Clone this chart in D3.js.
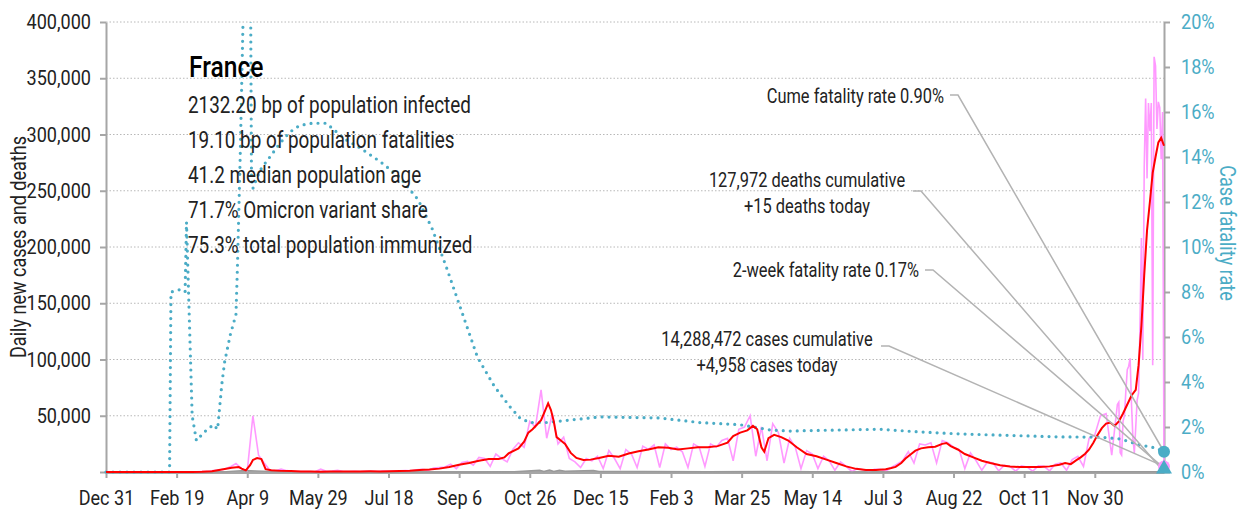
<!DOCTYPE html>
<html>
<head>
<meta charset="utf-8">
<script src="https://cdn.jsdelivr.net/npm/d3@7"></script>
<style>
    body { margin: 0; background: #fff; }
    svg text { font-family: Roboto, "Liberation Sans", sans-serif; fill: #222; }
</style>
</head>
<body>
<div id="chart"></div>
<script>
// ---------------- data ----------------
const startDate = "2019-12-31";
const endDate = "2022-01-18";

const xTickDates = ["2019-12-31", "2020-02-19", "2020-04-09", "2020-05-29", "2020-07-18", "2020-09-06",
    "2020-10-26", "2020-12-15", "2021-02-03", "2021-03-25", "2021-05-14", "2021-07-03",
    "2021-08-22", "2021-10-11", "2021-11-30"];
const leftTicks = [0, 50000, 100000, 150000, 200000, 250000, 300000, 350000, 400000];
const rightTicks = [0, 2, 4, 6, 8, 10, 12, 14, 16, 18, 20];

// daily new cases, one reading every 4 days from Dec 31 2019
const casesStep = 4;
const casesEvery4Days = [
    0, 0, 0, 0, 0, 0, 0, 0, 0, 0, 0, 0, 0, 0, 2, 40, 100, 300, 500, 1200,
    1800, 2500, 4600, 7500, 3000, 1000, 50000, 15000, 8000, 1500, 1000, 2500, 1200, 600, 400, 300, 500, 200, 2500, 600,
    800, 1500, 400, 500, 600, 300, 700, 600, 400, 800, 700, 900, 1000, 1300, 1000, 2000, 2500, 1500, 3500, 4000,
    4500, 7000, 3000, 8500, 9500, 6000, 13000, 12000, 5000, 16000, 12000, 9000, 20000, 26000, 22000, 45000, 40000, 73000, 30000, 52000,
    25000, 31000, 12000, 9000, 4000, 12000, 10000, 14000, 3000, 19000, 12000, 3000, 20000, 16000, 4000, 23000, 20000, 24000, 4000, 25000,
    20000, 22000, 18000, 4000, 25000, 22000, 5000, 25000, 22000, 28000, 30000, 10000, 38000, 40000, 50000, 14000, 40000, 10000, 43000, 35000,
    8000, 30000, 22000, 3000, 19000, 16000, 3000, 14000, 10000, 1500, 9000, 5000, 500, 3000, 2000, 500, 2500, 2500, 800, 4000,
    7000, 10000, 18000, 8000, 25000, 24000, 26000, 8000, 28000, 26000, 22000, 20000, 3000, 17000, 10000, 1500, 9000, 8000, 1000, 6000,
    5000, 800, 5500, 4500, 700, 5500, 5000, 1000, 7000, 8000, 1500, 11000, 14000, 5000, 30000, 33000, 50000, 52000, 15000, 60000
];
// daily new cases, day by day from Dec 17 2021
const casesLateStart = "2021-12-17";
const casesLate = [
    62000, 17000, 15000, 45000, 50000, 72000, 91000, 94000, 101000, 60000, 30000, 17000, 40000, 64000, 70000, 130000,
    208000, 100000, 271000, 332000, 261000, 328000, 303000, 328000, 95000, 369000, 361000, 305000, 329000, 324000, 278000,
    320000, 4958
];

// 7-day average of new cases
const avgCases = [
    ["2019-12-31", 0], ["2020-02-20", 0], ["2020-03-01", 20], ["2020-03-08", 150], ["2020-03-15", 700],
    ["2020-03-22", 2200], ["2020-03-29", 3800], ["2020-04-03", 4400], ["2020-04-05", 3000], ["2020-04-08", 1500],
    ["2020-04-11", 6000], ["2020-04-13", 10700], ["2020-04-16", 12400], ["2020-04-19", 11500], ["2020-04-22", 2500],
    ["2020-04-26", 1500], ["2020-05-03", 1000], ["2020-05-10", 900], ["2020-05-17", 500], ["2020-05-24", 400],
    ["2020-05-31", 300], ["2020-06-07", 500], ["2020-06-14", 400], ["2020-06-21", 500], ["2020-06-28", 550],
    ["2020-07-05", 600], ["2020-07-12", 550], ["2020-07-19", 700], ["2020-07-26", 900], ["2020-08-02", 1200],
    ["2020-08-09", 1800], ["2020-08-16", 2200], ["2020-08-23", 3000], ["2020-08-30", 4500], ["2020-09-06", 6500],
    ["2020-09-13", 8000], ["2020-09-20", 10000], ["2020-09-27", 11500], ["2020-10-04", 11500], ["2020-10-08", 13000],
    ["2020-10-11", 16500], ["2020-10-18", 21000], ["2020-10-22", 27000], ["2020-10-25", 35000], ["2020-10-28", 38000],
    ["2020-10-31", 42000], ["2020-11-03", 46000], ["2020-11-06", 55000], ["2020-11-08", 61000], ["2020-11-10", 55000],
    ["2020-11-12", 45000], ["2020-11-14", 31000], ["2020-11-17", 28000], ["2020-11-20", 25000], ["2020-11-24", 17000],
    ["2020-11-28", 12500], ["2020-12-03", 10700], ["2020-12-08", 11000], ["2020-12-14", 12500], ["2020-12-21", 14500],
    ["2020-12-28", 13500], ["2021-01-04", 16500], ["2021-01-11", 18500], ["2021-01-18", 20000], ["2021-01-25", 22000],
    ["2021-02-01", 21500], ["2021-02-08", 20000], ["2021-02-15", 21000], ["2021-02-22", 22000], ["2021-03-01", 22000],
    ["2021-03-08", 23000], ["2021-03-15", 26000], ["2021-03-19", 32000], ["2021-03-24", 35000], ["2021-03-29", 37000],
    ["2021-04-02", 41000], ["2021-04-05", 38000], ["2021-04-08", 22000], ["2021-04-10", 18000], ["2021-04-13", 30000],
    ["2021-04-17", 33000], ["2021-04-22", 31000], ["2021-04-27", 28000], ["2021-05-03", 22000], ["2021-05-10", 16000],
    ["2021-05-17", 14000], ["2021-05-24", 11000], ["2021-05-31", 8000], ["2021-06-07", 5000], ["2021-06-14", 2800],
    ["2021-06-21", 1800], ["2021-06-28", 1800], ["2021-07-05", 2500], ["2021-07-09", 3500], ["2021-07-12", 4500],
    ["2021-07-16", 8000], ["2021-07-19", 12000], ["2021-07-23", 16000], ["2021-07-26", 19000], ["2021-07-30", 21000],
    ["2021-08-04", 22000], ["2021-08-09", 22500], ["2021-08-14", 25000], ["2021-08-17", 25800], ["2021-08-20", 23000],
    ["2021-08-25", 20000], ["2021-08-30", 16000], ["2021-09-05", 13000], ["2021-09-11", 10000], ["2021-09-17", 8000],
    ["2021-09-24", 6000], ["2021-10-01", 4800], ["2021-10-08", 4400], ["2021-10-15", 4400], ["2021-10-22", 4400],
    ["2021-10-29", 5000], ["2021-11-05", 6500], ["2021-11-09", 8000], ["2021-11-13", 7000], ["2021-11-17", 10500],
    ["2021-11-20", 13000], ["2021-11-23", 16000], ["2021-11-26", 20000], ["2021-11-29", 26000], ["2021-12-02", 33000],
    ["2021-12-05", 39000], ["2021-12-08", 43000], ["2021-12-11", 44000], ["2021-12-14", 41000], ["2021-12-17", 45000],
    ["2021-12-20", 52000], ["2021-12-23", 60000], ["2021-12-26", 68000], ["2021-12-29", 73000], ["2021-12-31", 95000],
    ["2022-01-02", 130000], ["2022-01-04", 175000], ["2022-01-06", 215000], ["2022-01-08", 240000], ["2022-01-10", 266000],
    ["2022-01-12", 280000], ["2022-01-14", 293000], ["2022-01-16", 297000], ["2022-01-18", 290000]
];

// daily deaths
const dailyDeaths = [
    ["2019-12-31", 0], ["2020-03-10", 10], ["2020-03-25", 300], ["2020-04-02", 1000], ["2020-04-08", 1400],
    ["2020-04-15", 1000], ["2020-04-25", 500], ["2020-05-10", 150], ["2020-06-01", 50], ["2020-08-01", 15],
    ["2020-09-15", 60], ["2020-10-15", 150], ["2020-11-02", 1500], ["2020-11-05", 400], ["2020-11-09", 1700],
    ["2020-11-12", 500], ["2020-11-16", 1500], ["2020-11-20", 600], ["2020-12-10", 1400], ["2020-12-14", 400],
    ["2021-01-15", 350], ["2021-03-01", 300], ["2021-04-15", 350], ["2021-05-15", 150], ["2021-06-15", 40],
    ["2021-08-20", 120], ["2021-10-15", 30], ["2021-12-15", 120], ["2022-01-17", 250], ["2022-01-18", 15]
];

// cumulative case fatality rate, percent
const fatalityRate = [
    ["2019-12-31", 0], ["2020-02-14", 0], ["2020-02-15", 8.0], ["2020-02-21", 8.1], ["2020-02-25", 8.0],
    ["2020-02-26", 11.1], ["2020-03-01", 2.5], ["2020-03-04", 1.4], ["2020-03-10", 1.8], ["2020-03-16", 2.1],
    ["2020-03-19", 1.9], ["2020-03-22", 3.9], ["2020-03-24", 4.9], ["2020-03-28", 6.1], ["2020-04-01", 7.0],
    ["2020-04-02", 9.0], ["2020-04-03", 11.5], ["2020-04-04", 14.0], ["2020-04-05", 17.0], ["2020-04-06", 20.0],
    ["2020-04-07", 26.0], ["2020-04-11", 26.0], ["2020-04-12", 13.0], ["2020-04-13", 12.6], ["2020-04-16", 13.1],
    ["2020-04-19", 13.5], ["2020-04-25", 14.0], ["2020-05-02", 14.6], ["2020-05-09", 15.1], ["2020-05-16", 15.4],
    ["2020-05-25", 15.5], ["2020-06-04", 15.5], ["2020-06-17", 14.8], ["2020-06-28", 14.4], ["2020-07-12", 13.8],
    ["2020-07-26", 13.1], ["2020-08-08", 12.1], ["2020-08-18", 10.8], ["2020-08-28", 9.1], ["2020-09-08", 7.1],
    ["2020-09-19", 5.1], ["2020-10-01", 3.8], ["2020-10-12", 2.9], ["2020-10-19", 2.4], ["2020-10-26", 2.2],
    ["2020-11-07", 2.2], ["2020-12-15", 2.45], ["2021-01-26", 2.4], ["2021-02-23", 2.2], ["2021-03-24", 2.1],
    ["2021-04-14", 1.87], ["2021-04-28", 1.82], ["2021-05-19", 1.85], ["2021-07-01", 1.9], ["2021-07-29", 1.78],
    ["2021-08-27", 1.69], ["2021-11-05", 1.56], ["2021-12-04", 1.55], ["2021-12-18", 1.47], ["2022-01-01", 1.2],
    ["2022-01-12", 1.07], ["2022-01-18", 0.9]
];

const countryName = "France";
const statLines = [
    "2132.20 bp of population infected",
    "19.10 bp of population fatalities",
    "41.2 median population age",
    "71.7% Omicron variant share",
    "75.3% total population immunized"
];

const cumeRate = 0.90;
const twoWeekRate = 0.17;
const casesToday = 4958;
const deathsToday = 15;
const noteTexts = [
    ["Cume fatality rate 0.90%"],
    ["127,972 deaths cumulative", "+15 deaths today"],
    ["2-week fatality rate 0.17%"],
    ["14,288,472 cases cumulative", "+4,958 cases today"]
];

// ---------------- chart ----------------
const parseDate = d3.timeParse("%Y-%m-%d");

// squeeze glyphs along the run to get a condensed look
function condense(selection, factor) {
    selection.each(function() {
        let w = this.getComputedTextLength();
        if (w > 0) {
            d3.select(this)
                .attr("textLength", w * factor)
                .attr("lengthAdjust", "spacingAndGlyphs");
        }
    });
}

class CaseChart {
    constructor(parentElement) {
        this.parentElement = parentElement;
        this.initVis();
    }

    initVis() {
        let vis = this;

        vis.margin = {top: 22, right: 76, bottom: 40, left: 106};
        vis.width = 1240 - vis.margin.left - vis.margin.right;
        vis.height = 512 - vis.margin.top - vis.margin.bottom;

        vis.root = d3.select("#" + vis.parentElement).append("svg")
            .attr("width", 1240)
            .attr("height", 512);
        vis.svg = vis.root.append("g")
            .attr("transform", "translate(" + vis.margin.left + "," + vis.margin.top + ")");

        vis.x = d3.scaleTime()
            .domain([parseDate(startDate), parseDate(endDate)])
            .range([0, vis.width]);

        vis.yLeft = d3.scaleLinear()
            .domain([0, 400000])
            .range([vis.height, 0]);

        vis.yRight = d3.scaleLinear()
            .domain([0, 20])
            .range([vis.height, 0]);

        vis.svg.append("clipPath").attr("id", "plot-clip")
            .append("rect")
            .attr("x", -3).attr("y", 0)
            .attr("width", vis.width + 6).attr("height", vis.height + 4);

        this.wrangleData();
    }

    wrangleData() {
        let vis = this;

        let start = parseDate(startDate);
        vis.dailyData = casesEvery4Days.map((v, i) => ({date: d3.timeDay.offset(start, i * casesStep), value: v}));
        let lateStart = parseDate(casesLateStart);
        casesLate.forEach((v, i) => vis.dailyData.push({date: d3.timeDay.offset(lateStart, i), value: v}));

        let toPoints = arr => arr.map(d => ({date: parseDate(d[0]), value: d[1]}));
        vis.avgData = toPoints(avgCases);
        vis.deathData = toPoints(dailyDeaths);
        vis.rateData = toPoints(fatalityRate);

        this.updateVis();
    }

    updateVis() {
        let vis = this;
        let teal = "#4bacc6";
        let axisGrey = "#a6a6a6";

        // dotted grid
        vis.svg.append("g").selectAll("line")
            .data(leftTicks.filter(d => d > 0))
            .enter().append("line")
            .attr("x1", 0).attr("x2", vis.width)
            .attr("y1", d => vis.yLeft(d)).attr("y2", d => vis.yLeft(d))
            .attr("stroke", "#b8b8b8")
            .attr("stroke-width", 1)
            .attr("stroke-dasharray", "1.5,2");

        // axes
        let leftAxis = d3.axisLeft(vis.yLeft)
            .tickValues(leftTicks)
            .tickFormat(d => d === 0 ? "" : d3.format(",")(d))
            .tickSize(6).tickSizeOuter(0).tickPadding(9);
        let rightAxis = d3.axisRight(vis.yRight)
            .tickValues(rightTicks)
            .tickFormat(d => d + "%")
            .tickSize(6).tickSizeOuter(0).tickPadding(11);
        let bottomAxis = d3.axisBottom(vis.x)
            .tickValues(xTickDates.map(parseDate))
            .tickFormat(d3.timeFormat("%b %-d"))
            .tickSize(6).tickSizeOuter(0).tickPadding(12);

        let gl = vis.svg.append("g").attr("class", "y-axis axis").call(leftAxis);
        let gr = vis.svg.append("g").attr("class", "y2-axis axis")
            .attr("transform", "translate(" + vis.width + ",0)").call(rightAxis);
        let gb = vis.svg.append("g").attr("class", "x-axis axis")
            .attr("transform", "translate(0," + vis.height + ")").call(bottomAxis);

        [gl, gr, gb].forEach(g => {
            g.attr("font-family", null).attr("font-size", null);
            g.select(".domain").attr("stroke", axisGrey).attr("stroke-width", 2);
            g.selectAll(".tick line").attr("stroke", axisGrey).attr("stroke-width", 2);
            g.selectAll(".tick text").attr("font-size", 21);
        });
        gb.select(".domain").attr("stroke-width", 3);
        gr.selectAll(".tick text").style("fill", teal);

        // data lines
        let plot = vis.svg.append("g").attr("clip-path", "url(#plot-clip)");

        let caseLine = d3.line()
            .x(d => vis.x(d.date))
            .y(d => vis.yLeft(d.value));
        let rateLine = d3.line()
            .x(d => vis.x(d.date))
            .y(d => vis.yRight(d.value));

        plot.append("path")
            .datum(vis.dailyData)
            .attr("d", caseLine)
            .attr("fill", "none")
            .attr("stroke", "#ff99ff")
            .attr("stroke-width", 1.6);

        plot.append("path")
            .datum(vis.deathData)
            .attr("d", caseLine)
            .attr("fill", "none")
            .attr("stroke", "#999")
            .attr("stroke-width", 1.5);

        plot.append("path")
            .datum(vis.rateData)
            .attr("d", rateLine)
            .attr("fill", "none")
            .attr("stroke", teal)
            .attr("stroke-width", 3.2)
            .attr("stroke-linecap", "round")
            .attr("stroke-dasharray", "0,7");

        plot.append("path")
            .datum(vis.avgData)
            .attr("d", caseLine)
            .attr("fill", "none")
            .attr("stroke", "#ff0000")
            .attr("stroke-width", 2);

        // axis titles
        vis.svg.append("text")
            .attr("class", "label")
            .attr("transform", "translate(" + (26 - vis.margin.left) + "," + (247 - vis.margin.top) + ") rotate(-90)")
            .attr("text-anchor", "middle")
            .attr("font-size", 22)
            .text("Daily new cases and deaths");

        vis.svg.append("text")
            .attr("class", "label")
            .attr("transform", "translate(" + (1220 - vis.margin.left) + "," + (233 - vis.margin.top) + ") rotate(90)")
            .attr("text-anchor", "middle")
            .attr("font-size", 22)
            .style("fill", teal)
            .text("Case fatality rate");

        // info block
        vis.svg.append("text")
            .attr("class", "label")
            .attr("x", 189 - vis.margin.left).attr("y", 77 - vis.margin.top)
            .attr("font-size", 30)
            .attr("font-weight", 500)
            .style("fill", "#000")
            .text(countryName);

        vis.svg.append("g").selectAll("text")
            .data(statLines)
            .enter().append("text")
            .attr("class", "label")
            .attr("x", 188 - vis.margin.left)
            .attr("y", (d, i) => 113 - vis.margin.top + i * 35)
            .attr("font-size", 23)
            .text(d => d);

        // callouts with leader lines to the last day
        let endX = vis.width;
        let targets = [
            vis.yRight(cumeRate),
            vis.yLeft(deathsToday),
            vis.yRight(twoWeekRate),
            vis.yLeft(casesToday)
        ];
        let layout = [
            {x: 944, y: 103, anchor: "end", lx: 950, ly: 95},
            {x: 807, y: 187, anchor: "middle", lx: 913, ly: 191},
            {x: 919, y: 277, anchor: "end", lx: 925, ly: 270},
            {x: 767, y: 346, anchor: "middle", lx: 881, ly: 346}
        ];

        noteTexts.forEach((lines, i) => {
            let L = layout[i];
            let sx = L.lx - vis.margin.left, sy = L.ly - vis.margin.top;
            vis.svg.append("polyline")
                .attr("points", [[sx, sy], [sx + 8, sy], [endX, targets[i]]].map(p => p.join(",")).join(" "))
                .attr("fill", "none")
                .attr("stroke", "#b3b3b3")
                .attr("stroke-width", 1.5);

            lines.forEach((s, j) => {
                vis.svg.append("text")
                    .attr("class", "label")
                    .attr("text-anchor", L.anchor)
                    .attr("font-size", 20)
                    .attr("x", L.x - vis.margin.left)
                    .attr("y", L.y - vis.margin.top + j * 26)
                    .text(s);
            });
        });

        // end markers
        vis.svg.append("circle")
            .attr("cx", endX).attr("cy", vis.yLeft(casesToday))
            .attr("r", 6).attr("fill", "#ff99ff");
        vis.svg.append("path")
            .attr("d", d3.symbol().type(d3.symbolTriangle).size(110))
            .attr("transform", "translate(" + endX + "," + (vis.yLeft(deathsToday) - 3) + ")")
            .attr("fill", teal);
        vis.svg.append("circle")
            .attr("cx", endX).attr("cy", vis.yRight(cumeRate))
            .attr("r", 6).attr("fill", teal);

        condense(vis.root.selectAll(".label"), 0.82);
        condense(vis.root.selectAll(".tick text"), 0.86);
    }
}

new CaseChart("chart");
</script>
</body>
</html>
